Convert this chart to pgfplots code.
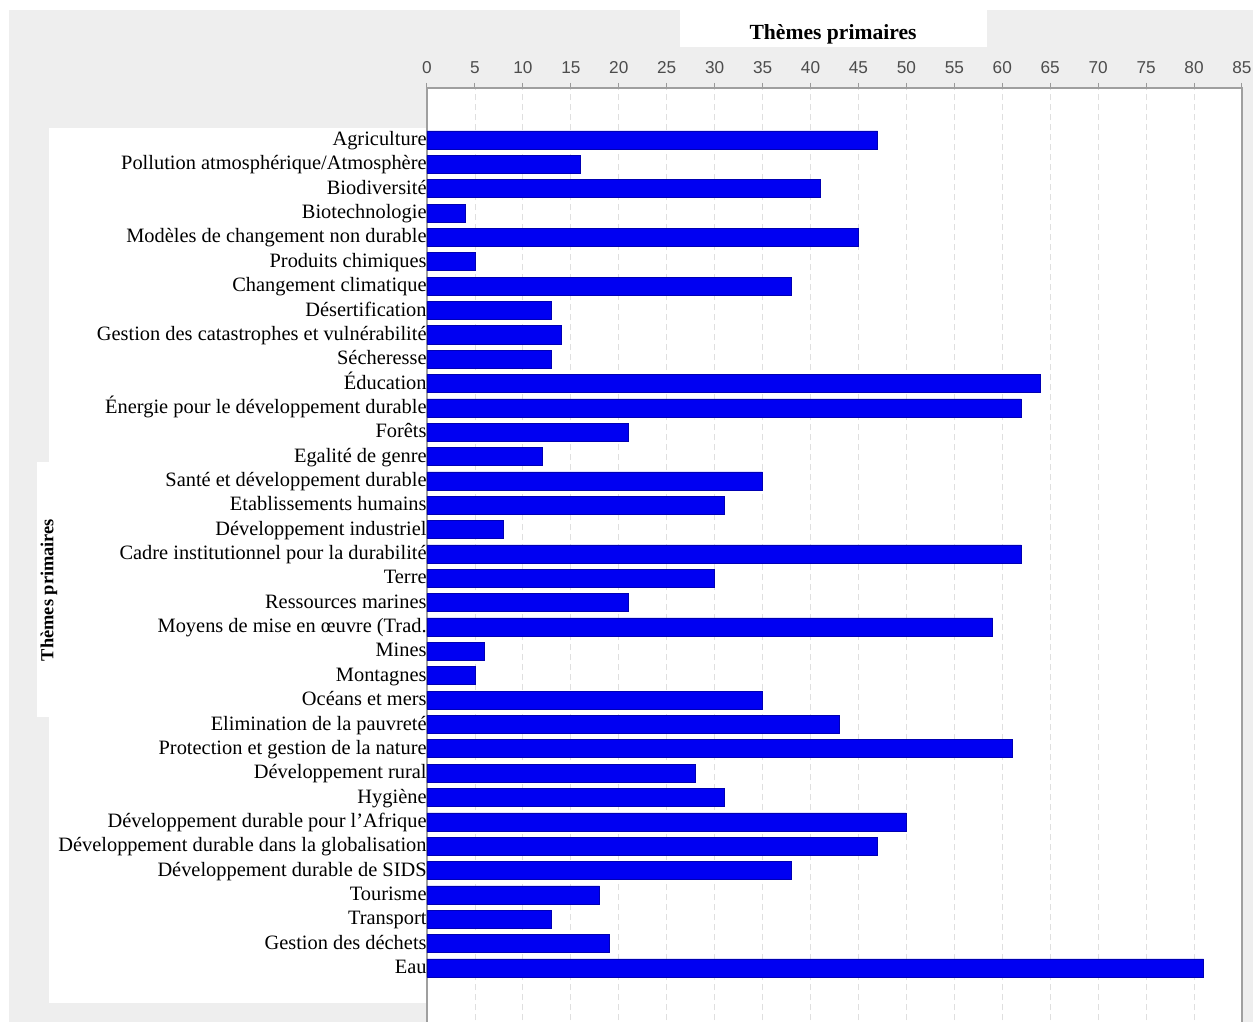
\documentclass[border=0pt]{standalone}
\usepackage{pgfplots}
\pgfplotsset{compat=1.18}
\usepackage{fontspec}
\setmainfont{Liberation Serif}
\setsansfont{Liberation Sans}
\definecolor{bggray}{HTML}{EEEEEE}
\definecolor{barblue}{HTML}{0000F2}
\def\pu{0.5pt}
\begin{document}
\begin{tikzpicture}
\path[use as bounding box] (0,0) rectangle (1253*\pu,-1022*\pu);
\clip (0,0) rectangle (1253*\pu,-1022*\pu);
% screenshot background pieces
\fill[white] (0,0) rectangle (1253*\pu,-1022*\pu);
\fill[bggray] (9*\pu,-10*\pu) rectangle (1253*\pu,-1022*\pu);
\fill[white] (49*\pu,-128*\pu) rectangle (427*\pu,-1003*\pu);
\fill[white] (37*\pu,-462*\pu) rectangle (49*\pu,-717*\pu);
\fill[white] (427*\pu,-88*\pu) rectangle (1242*\pu,-1022*\pu);
\begin{scope}
  \clip (680*\pu,-10*\pu) rectangle (987*\pu,-47*\pu);
  \fill[white] (680*\pu,-10*\pu) rectangle (987*\pu,-47*\pu);
  \node[anchor=base,inner sep=0pt,font=\bfseries\fontsize{10.8}{12}\selectfont] at (833*\pu,-40*\pu) {Thèmes primaires};
\end{scope}
\node[rotate=90,inner sep=0pt,font=\bfseries\fontsize{9.2}{11}\selectfont] at (49*\pu,-590*\pu) {Thèmes primaires};

\begin{axis}[
  at={(427*\pu,-88*\pu)}, anchor=north west,
  scale only axis, width=407.5pt, height=471pt,
  xmin=0, xmax=85, ymin=-2.55, ymax=36.135,
  xbar, bar width=0.74,
  xtick={0,5,...,85},
  xtick pos=upper, xticklabel pos=upper,
  tick align=outside,
  major tick length=2.5pt,
  x tick style={draw=gray!80, line width=0.5pt},
  xticklabel style={font=\sffamily\fontsize{8.6}{9}\selectfont, text=black!70, yshift=1pt},
  /pgf/number format/assume math mode=true,
  xmajorgrids,
  grid style={densely dashed, gray!25, line width=0.4pt},
  axis line style={draw=gray!75, line width=0.8pt},
  ytick={0,...,34},
  y tick style={draw=none},
  yticklabel style={font=\fontsize{10.2}{12}\selectfont, inner xsep=0pt, inner ysep=0pt,
    text height=0.72em, text depth=0.22em, xshift=2.5pt, yshift=-0.3pt},
  yticklabels={Eau,
    Gestion des déchets,
    Transport,
    Tourisme,
    Développement durable de SIDS,
    Développement durable dans la globalisation,
    Développement durable pour l’Afrique,
    Hygiène,
    Développement rural,
    Protection et gestion de la nature,
    Elimination de la pauvreté,
    Océans et mers,
    Montagnes,
    Mines,
    Moyens de mise en œuvre (Trad.,
    Ressources marines,
    Terre,
    Cadre institutionnel pour la durabilité,
    Développement industriel,
    Etablissements humains,
    Santé et développement durable,
    Egalité de genre,
    Forêts,
    Énergie pour le développement durable,
    Éducation,
    Sécheresse,
    Gestion des catastrophes et vulnérabilité,
    Désertification,
    Changement climatique,
    Produits chimiques,
    Modèles de changement non durable,
    Biotechnologie,
    Biodiversité,
    Pollution atmosphérique/Atmosphère,
    Agriculture},
]
\addplot[fill=barblue, draw=blue!70!black, line width=0.3pt] coordinates {
  (81,0) (19,1) (13,2) (18,3) (38,4) (47,5) (50,6) (31,7) (28,8) (61,9)
  (43,10) (35,11) (5,12) (6,13) (59,14) (21,15) (30,16) (62,17) (8,18) (31,19)
  (35,20) (12,21) (21,22) (62,23) (64,24) (13,25) (14,26) (13,27) (38,28) (5,29)
  (45,30) (4,31) (41,32) (16,33) (47,34)
};
\end{axis}
\end{tikzpicture}
\end{document}
